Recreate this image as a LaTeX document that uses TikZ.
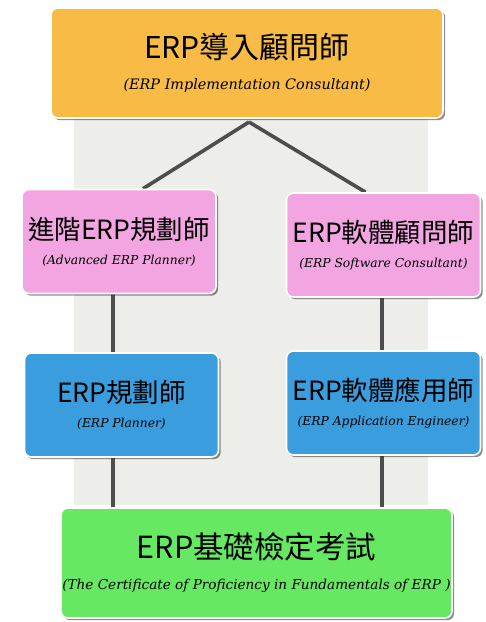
\documentclass[tikz,border=0pt]{standalone}
\usepackage{fontspec}
\newfontfamily\cjk{Noto Sans CJK TC}
\newfontfamily\subfont{DejaVu Serif}
\usetikzlibrary{shadows,backgrounds}

\definecolor{implcolor}{HTML}{F7BB46}
\definecolor{advcolor}{HTML}{F2A5E0}
\definecolor{basecolor}{HTML}{3A9DDE}
\definecolor{certcolor}{HTML}{67E862}
\definecolor{linkcolor}{HTML}{4D4D4D}
\definecolor{panelcolor}{HTML}{EDEDEA}

\tikzset{
    job node/.style={rectangle,rounded corners=7pt,draw=white,line width=1.6pt,
        align=center,inner sep=0pt,
        drop shadow={shadow xshift=2.2pt,shadow yshift=-2.2pt,opacity=0.55,fill=black!80}},
    impl node/.style={job node,fill=implcolor,minimum width=392pt,minimum height=110pt},
    adv node/.style={job node,fill=advcolor,minimum width=194pt,minimum height=104pt},
    base node/.style={job node,fill=basecolor,minimum width=194pt,minimum height=104pt},
    cert node/.style={job node,fill=certcolor,minimum width=391pt,minimum height=110pt},
    link/.style={draw=linkcolor,line width=3.6pt},
    }
\newcommand{\engname}[2]{{\subfont\itshape\fontsize{#1}{#1}\selectfont #2}}

\begin{document}
\begin{tikzpicture}[x=1pt,y=-1pt]
    \useasboundingbox (0,0) rectangle (486,622);
    % boxes
    \node(impl)[impl node] at (247,63)
        {{\cjk\fontsize{30}{30}\selectfont ERP導入顧問師}\\[17pt]\engname{14.4}{(ERP Implementation Consultant)}};
    \node(adv)[adv node] at (119,241.5)
        {{\cjk\fontsize{26.5}{26.5}\selectfont 進階ERP規劃師}\\[13pt]\engname{12.3}{(Advanced ERP Planner)}};
    \node(soft)[adv node] at (383.5,245)
        {{\cjk\fontsize{26.5}{26.5}\selectfont ERP軟體顧問師}\\[13pt]\engname{12.3}{(ERP Software Consultant)}};
    \node(plan)[base node] at (121.5,405)
        {{\cjk\fontsize{26.5}{26.5}\selectfont ERP規劃師}\\[13pt]\engname{12.3}{(ERP Planner)}};
    \node(app)[base node] at (383.5,403)
        {{\cjk\fontsize{26.5}{26.5}\selectfont ERP軟體應用師}\\[13pt]\engname{12.3}{(ERP Application Engineer)}};
    \node(cert)[cert node] at (256.5,563)
        {{\cjk\fontsize{30.5}{30.5}\selectfont ERP基礎檢定考試}\\[17pt]\engname{13.6}{(The Certificate of Proficiency in Fundamentals of ERP )}};
    % panel and links
    \begin{pgfonlayer}{background}
        \fill[white] (0,0) rectangle (486,622);
        \fill[panelcolor] (74,118) rectangle (428,505);
        \coordinate(apex) at (249,122);
        \draw[link] (apex) -- ([xshift=24pt]adv.north);
        \draw[link] (apex) -- ([xshift=-18pt]soft.north);
        \draw[link] ([xshift=-6pt]adv.south) -- ([xshift=-8.5pt]plan.north);
        \draw[link] ([xshift=-8.5pt]plan.south) -- ([xshift=-8.5pt]plan.south |- cert.north);
        \draw[link] ([xshift=-1.5pt]soft.south) -- ([xshift=-1.5pt]app.north);
        \draw[link] ([xshift=-1.5pt]app.south) -- ([xshift=-1.5pt]app.south |- cert.north);
    \end{pgfonlayer}
\end{tikzpicture}
\end{document}
